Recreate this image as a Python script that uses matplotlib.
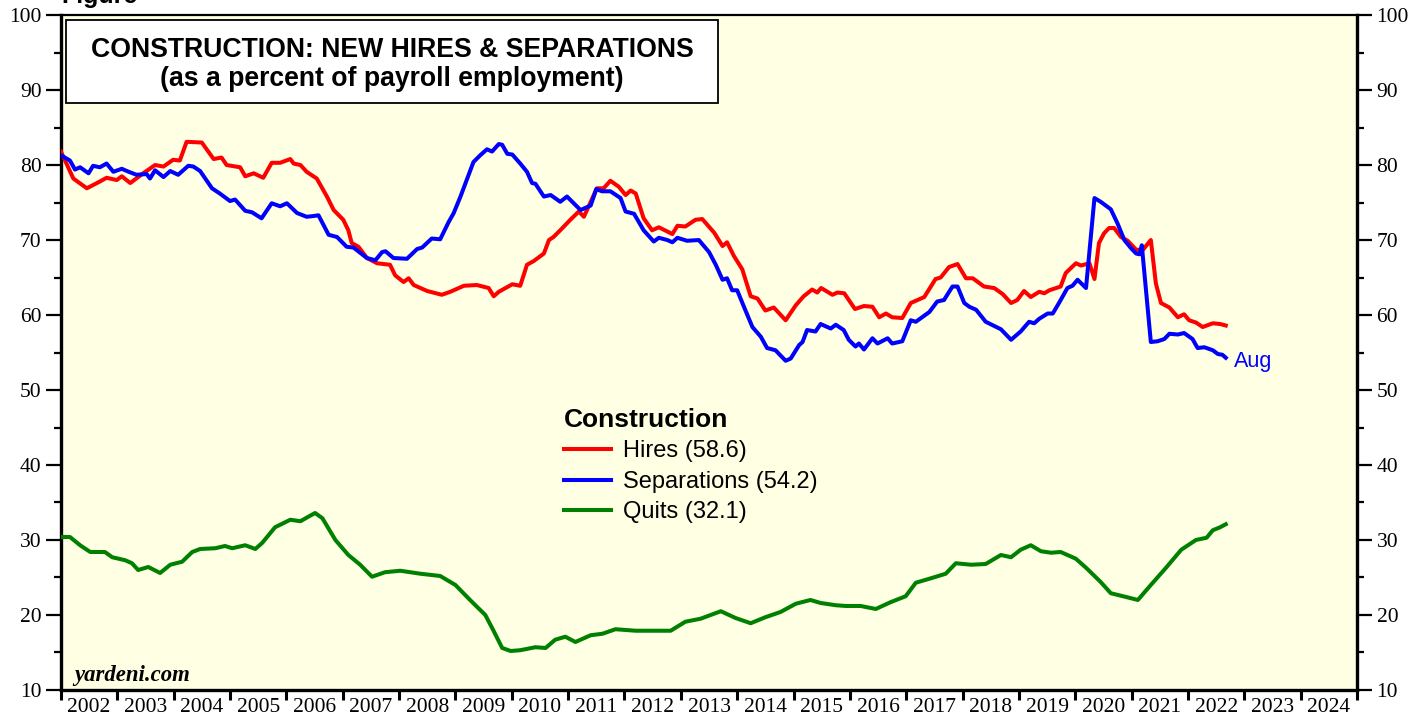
import numpy as np
import matplotlib.pyplot as plt
from matplotlib.lines import Line2D
from matplotlib.patches import Rectangle
from matplotlib.ticker import MultipleLocator, FixedLocator, NullFormatter

# ---- data (decimal year, percent of payroll employment) ----
hires_t = [2002.00, 2002.22, 2002.46, 2002.69, 2002.81, 2002.99, 2003.08, 2003.23, 2003.46,
           2003.67, 2003.82, 2003.99, 2004.11, 2004.23, 2004.50, 2004.71, 2004.85, 2004.94,
           2005.18, 2005.27, 2005.42, 2005.59, 2005.74, 2005.89, 2006.07, 2006.13, 2006.25,
           2006.36, 2006.54, 2006.72, 2006.84, 2007.01, 2007.10, 2007.16, 2007.28, 2007.43,
           2007.61, 2007.84, 2007.93, 2008.08, 2008.17, 2008.26, 2008.50, 2008.76, 2008.91,
           2009.15, 2009.38, 2009.59, 2009.68, 2009.77, 2010.01, 2010.15, 2010.27, 2010.39,
           2010.57, 2010.66, 2010.74, 2010.86, 2011.04, 2011.19, 2011.28, 2011.51, 2011.63,
           2011.75, 2011.90, 2012.02, 2012.11, 2012.20, 2012.34, 2012.49, 2012.61, 2012.85,
           2012.94, 2013.08, 2013.26, 2013.38, 2013.59, 2013.74, 2013.82, 2013.94, 2014.09,
           2014.24, 2014.36, 2014.50, 2014.65, 2014.86, 2015.04, 2015.18, 2015.33, 2015.42,
           2015.49, 2015.69, 2015.78, 2015.90, 2016.09, 2016.25, 2016.40, 2016.52, 2016.64,
           2016.75, 2016.93, 2017.08, 2017.32, 2017.52, 2017.61, 2017.76, 2017.91, 2018.06,
           2018.18, 2018.38, 2018.56, 2018.71, 2018.86, 2018.97, 2019.09, 2019.21, 2019.36,
           2019.45, 2019.54, 2019.74, 2019.83, 2020.01, 2020.10, 2020.25, 2020.34, 2020.42,
           2020.51, 2020.60, 2020.69, 2020.81, 2020.93, 2021.08, 2021.20, 2021.34, 2021.43,
           2021.52, 2021.67, 2021.82, 2021.93, 2022.02, 2022.14, 2022.26, 2022.44, 2022.57,
           2022.67]
hires = [81.8, 78.2, 76.9, 77.8, 78.3, 78.0, 78.5, 77.6, 78.9,
         80.0, 79.8, 80.7, 80.6, 83.1, 83.0, 80.8, 81.0, 80.0,
         79.7, 78.5, 78.9, 78.3, 80.3, 80.3, 80.8, 80.2, 80.0,
         79.1, 78.2, 75.8, 74.0, 72.7, 71.3, 69.6, 69.1, 67.6,
         66.9, 66.7, 65.3, 64.4, 64.9, 64.0, 63.2, 62.7, 63.1,
         63.9, 64.0, 63.6, 62.5, 63.1, 64.1, 63.9, 66.7, 67.2,
         68.2, 70.0, 70.4, 71.3, 72.7, 73.8, 73.1, 76.9, 76.9,
         77.9, 77.1, 76.0, 76.6, 76.2, 72.9, 71.3, 71.7, 70.8,
         71.9, 71.8, 72.7, 72.8, 71.0, 69.2, 69.7, 67.9, 66.1,
         62.5, 62.2, 60.6, 61.0, 59.3, 61.3, 62.5, 63.4, 63.0,
         63.6, 62.7, 63.0, 62.9, 60.8, 61.2, 61.1, 59.7, 60.2,
         59.7, 59.6, 61.6, 62.4, 64.8, 65.0, 66.4, 66.8, 64.9,
         64.9, 63.8, 63.6, 62.8, 61.6, 62.0, 63.2, 62.4, 63.1,
         62.9, 63.3, 63.8, 65.6, 66.9, 66.6, 66.9, 64.8, 69.6,
         70.9, 71.6, 71.6, 70.4, 69.9, 68.7, 68.7, 70.0, 64.2,
         61.6, 61.0, 59.7, 60.1, 59.3, 59.0, 58.4, 58.9, 58.8,
         58.6]

seps_t = [2002.00, 2002.16, 2002.25, 2002.34, 2002.49, 2002.57, 2002.69, 2002.81, 2002.93,
          2003.08, 2003.17, 2003.34, 2003.52, 2003.58, 2003.67, 2003.82, 2003.94, 2004.08,
          2004.26, 2004.35, 2004.47, 2004.68, 2004.82, 2005.00, 2005.09, 2005.27, 2005.39,
          2005.56, 2005.74, 2005.89, 2006.01, 2006.19, 2006.36, 2006.48, 2006.57, 2006.75,
          2006.90, 2007.07, 2007.19, 2007.31, 2007.43, 2007.58, 2007.70, 2007.76, 2007.90,
          2008.14, 2008.32, 2008.41, 2008.58, 2008.73, 2008.88, 2008.97, 2009.09, 2009.21,
          2009.32, 2009.44, 2009.56, 2009.65, 2009.77, 2009.83, 2009.92, 2010.01, 2010.15,
          2010.27, 2010.36, 2010.42, 2010.57, 2010.69, 2010.86, 2010.98, 2011.22, 2011.40,
          2011.50, 2011.60, 2011.75, 2011.93, 2012.02, 2012.17, 2012.34, 2012.52, 2012.61,
          2012.76, 2012.85, 2012.94, 2013.11, 2013.32, 2013.50, 2013.62, 2013.74, 2013.82,
          2013.91, 2014.00, 2014.12, 2014.27, 2014.42, 2014.53, 2014.68, 2014.86, 2014.95,
          2015.10, 2015.16, 2015.24, 2015.39, 2015.48, 2015.66, 2015.75, 2015.89, 2015.98,
          2016.10, 2016.16, 2016.25, 2016.40, 2016.49, 2016.67, 2016.75, 2016.93, 2017.08,
          2017.17, 2017.41, 2017.55, 2017.67, 2017.82, 2017.91, 2018.03, 2018.12, 2018.24,
          2018.41, 2018.68, 2018.86, 2019.03, 2019.18, 2019.27, 2019.36, 2019.51, 2019.60,
          2019.71, 2019.86, 2019.95, 2020.04, 2020.19, 2020.34, 2020.45, 2020.54, 2020.63,
          2020.75, 2020.87, 2020.99, 2021.08, 2021.14, 2021.18, 2021.34, 2021.46, 2021.58,
          2021.67, 2021.82, 2021.93, 2022.08, 2022.17, 2022.29, 2022.44, 2022.53, 2022.61,
          2022.67]
seps = [81.3, 80.6, 79.4, 79.7, 78.9, 79.9, 79.7, 80.2, 79.1,
        79.5, 79.2, 78.7, 78.8, 78.2, 79.3, 78.4, 79.2, 78.7,
        79.9, 79.8, 79.2, 76.9, 76.2, 75.2, 75.4, 73.9, 73.7,
        72.9, 74.9, 74.5, 74.9, 73.6, 73.1, 73.2, 73.3, 70.7,
        70.4, 69.1, 69.0, 68.3, 67.6, 67.3, 68.4, 68.5, 67.6,
        67.5, 68.8, 69.0, 70.2, 70.1, 72.4, 73.6, 75.8, 78.2,
        80.4, 81.3, 82.1, 81.8, 82.8, 82.7, 81.5, 81.4, 80.2,
        79.1, 77.6, 77.5, 75.8, 76.0, 75.1, 75.8, 74.0, 74.6,
        76.8, 76.5, 76.5, 75.6, 73.8, 73.5, 71.3, 69.8, 70.3,
        70.0, 69.7, 70.3, 69.9, 70.0, 68.4, 66.7, 64.7, 64.9,
        63.3, 63.3, 61.1, 58.4, 57.1, 55.6, 55.3, 53.9, 54.2,
        56.0, 56.4, 58.0, 57.8, 58.8, 58.2, 58.7, 58.0, 56.7,
        55.8, 56.2, 55.4, 56.9, 56.2, 56.9, 56.2, 56.5, 59.3,
        59.1, 60.4, 61.8, 62.0, 63.8, 63.8, 61.6, 61.1, 60.7,
        59.1, 58.1, 56.7, 57.8, 59.1, 58.9, 59.5, 60.2, 60.2,
        61.6, 63.6, 63.9, 64.7, 63.6, 75.6, 75.1, 74.6, 74.1,
        72.2, 70.0, 68.9, 68.2, 68.1, 69.3, 56.4, 56.5, 56.8,
        57.5, 57.4, 57.6, 56.8, 55.6, 55.7, 55.3, 54.8, 54.7,
        54.3]

quits_t = [2002.00, 2002.16, 2002.34, 2002.52, 2002.78, 2002.91, 2003.14, 2003.26, 2003.37,
           2003.55, 2003.76, 2003.94, 2004.15, 2004.33, 2004.47, 2004.74, 2004.91, 2005.04,
           2005.27, 2005.45, 2005.57, 2005.80, 2006.07, 2006.25, 2006.39, 2006.51, 2006.64,
           2006.87, 2007.10, 2007.31, 2007.52, 2007.75, 2008.02, 2008.38, 2008.73, 2009.00,
           2009.26, 2009.53, 2009.67, 2009.83, 2009.98, 2010.15, 2010.42, 2010.60, 2010.77,
           2010.95, 2011.13, 2011.40, 2011.61, 2011.84, 2012.20, 2012.55, 2012.82, 2013.08,
           2013.35, 2013.71, 2013.97, 2014.24, 2014.50, 2014.77, 2015.04, 2015.30, 2015.48,
           2015.75, 2015.93, 2016.19, 2016.46, 2016.72, 2016.99, 2017.17, 2017.44, 2017.70,
           2017.88, 2018.15, 2018.41, 2018.68, 2018.86, 2019.03, 2019.21, 2019.39, 2019.57,
           2019.74, 2020.01, 2020.19, 2020.45, 2020.63, 2020.90, 2021.11, 2021.34, 2021.61,
           2021.88, 2022.14, 2022.33, 2022.44, 2022.57, 2022.67]
quits = [30.4, 30.4, 29.3, 28.4, 28.4, 27.7, 27.3, 26.9, 26.0,
         26.4, 25.6, 26.7, 27.1, 28.4, 28.8, 28.9, 29.2, 28.9,
         29.3, 28.8, 29.6, 31.7, 32.7, 32.5, 33.1, 33.6, 32.9,
         30.0, 28.0, 26.7, 25.1, 25.7, 25.9, 25.5, 25.2, 24.0,
         22.0, 20.0, 18.0, 15.6, 15.2, 15.3, 15.7, 15.6, 16.7,
         17.1, 16.4, 17.3, 17.5, 18.1, 17.9, 17.9, 17.9, 19.1,
         19.5, 20.5, 19.6, 18.9, 19.7, 20.4, 21.5, 22.0, 21.6,
         21.3, 21.2, 21.2, 20.8, 21.7, 22.5, 24.3, 24.9, 25.5,
         26.9, 26.7, 26.8, 28.0, 27.7, 28.7, 29.3, 28.5, 28.3,
         28.4, 27.5, 26.3, 24.4, 22.9, 22.4, 22.0, 24.0, 26.3,
         28.7, 30.0, 30.3, 31.3, 31.7, 32.1]

years = list(range(2002, 2025))
last_month = "Aug"

fig = plt.figure(figsize=(14.27, 7.17), dpi=100)
ax = fig.add_axes([0.0427, 0.0377, 0.9083, 0.9413])
ax.set_facecolor('#ffffe3')

lw = 2.9
ax.plot(hires_t, hires, color='#ff0000', lw=lw, solid_joinstyle='round', zorder=3)
ax.plot(seps_t, seps, color='#0000ff', lw=lw, solid_joinstyle='round', zorder=4)
ax.plot(quits_t, quits, color='#008000', lw=lw, solid_joinstyle='round', zorder=3)

ax.set_xlim(2002, 2025)
ax.set_ylim(10, 100)

# y axis on both sides, serif tick labels
serif = 'Liberation Serif'
ax.yaxis.set_major_locator(MultipleLocator(10))
ax.yaxis.set_minor_locator(MultipleLocator(5))
ax.tick_params(axis='y', which='both', left=True, right=True, labelleft=True, labelright=True,
               direction='out', width=1.6)
ax.tick_params(axis='y', which='major', length=11, labelsize=15.5, pad=3)
ax.tick_params(axis='y', which='minor', length=5)
for lab in ax.get_yticklabels():
    lab.set_fontfamily(serif)

# x axis: ticks at year boundaries, labels centred in each year
ax.xaxis.set_major_locator(FixedLocator(years + [2025]))
ax.xaxis.set_major_formatter(NullFormatter())
ax.xaxis.set_minor_locator(FixedLocator([y + 0.5 for y in years]))
ax.set_xticklabels([str(y) for y in years], minor=True)
ax.tick_params(axis='x', which='major', direction='out', length=7, width=2.2)
ax.tick_params(axis='x', which='minor', length=0, labelsize=15.5, pad=6)
for lab in ax.get_xticklabels(minor=True):
    lab.set_fontfamily(serif)

for side in ['left', 'right', 'bottom']:
    ax.spines[side].set_linewidth(2.4)
ax.spines['top'].set_linewidth(1.6)

# title box
ax.add_patch(Rectangle((0.004, 0.870), 0.503, 0.123, transform=ax.transAxes,
                       facecolor='white', edgecolor='black', lw=1.3, zorder=6))
ax.text(0.2555, 0.948, 'CONSTRUCTION: NEW HIRES & SEPARATIONS', transform=ax.transAxes,
        ha='center', va='center', fontsize=19.2, fontweight='bold',
        family='Liberation Sans', zorder=7)
ax.text(0.2555, 0.905, '(as a percent of payroll employment)', transform=ax.transAxes,
        ha='center', va='center', fontsize=19.2, fontweight='bold',
        family='Liberation Sans', zorder=7)

# legend
handles = [Line2D([], [], color='#ff0000', lw=lw),
           Line2D([], [], color='#0000ff', lw=lw),
           Line2D([], [], color='#008000', lw=lw)]
labels = [f'Hires ({hires[-1]:.1f})', 'Separations (54.2)', f'Quits ({quits[-1]:.1f})']
leg = ax.legend(handles, labels, title='Construction', loc='upper left',
                bbox_to_anchor=(0.388, 0.418), frameon=False, handlelength=2.0,
                handletextpad=0.5, labelspacing=0.36, borderaxespad=0, borderpad=0,
                prop={'family': 'Liberation Sans', 'size': 17})
leg.get_title().set_fontweight('bold')
leg.get_title().set_fontsize(19)
leg.get_title().set_family('Liberation Sans')
leg._legend_box.align = 'left'

ax.annotate(last_month, (seps_t[-1], seps[-1]), xytext=(6, -3), textcoords='offset points',
            color='#0000ff', fontsize=15.5, family='Liberation Sans', va='center', ha='left')

ax.text(0.010, 0.006, 'yardeni.com', transform=ax.transAxes, fontsize=16.4,
        fontweight='bold', fontstyle='italic', family=serif, ha='left', va='bottom')

fig.text(0.043, 1 - 3 / 717, 'Figure', fontsize=18, fontweight='bold',
         family='Liberation Sans', ha='left', va='baseline')

fig.savefig('out.png', dpi=100)
